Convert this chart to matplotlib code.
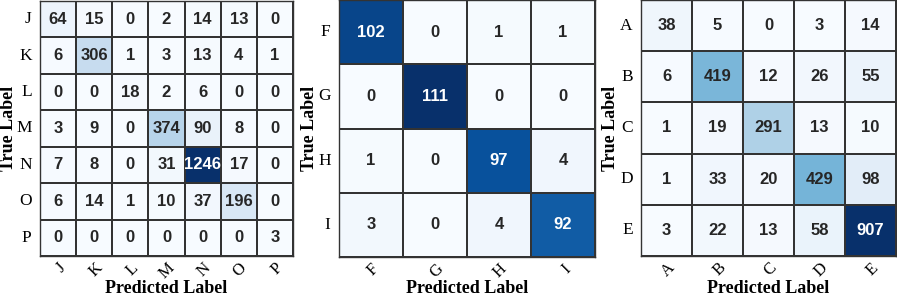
import numpy as np
import matplotlib.pyplot as plt
import seaborn as sns

labels1 = ['J', 'K', 'L', 'M', 'N', 'O', 'P']
cm1 = np.array([
    [64, 15, 0, 2, 14, 13, 0],
    [6, 306, 1, 3, 13, 4, 1],
    [0, 0, 18, 2, 6, 0, 0],
    [3, 9, 0, 374, 90, 8, 0],
    [7, 8, 0, 31, 1246, 17, 0],
    [6, 14, 1, 10, 37, 196, 0],
    [0, 0, 0, 0, 0, 0, 3],
])

labels2 = ['F', 'G', 'H', 'I']
cm2 = np.array([
    [102, 0, 1, 1],
    [0, 111, 0, 0],
    [1, 0, 97, 4],
    [3, 0, 4, 92],
])

labels3 = ['A', 'B', 'C', 'D', 'E']
cm3 = np.array([
    [38, 5, 0, 3, 14],
    [6, 419, 12, 26, 55],
    [1, 19, 291, 13, 10],
    [1, 33, 20, 429, 98],
    [3, 22, 13, 58, 907],
])

W, H = 897, 297
fig = plt.figure(figsize=(W / 100, H / 100), dpi=100)

# axes boxes in pixels: left, top, right, bottom, and x of the y-label centre
boxes = [(40, 1, 293, 256, 8), (339, 0, 595, 257, 309), (641, 0, 896, 256, 610)]

for (cm, labels), (l, t, r, b, yl) in zip([(cm1, labels1), (cm2, labels2), (cm3, labels3)], boxes):
    ax = fig.add_axes([l / W, 1 - b / H, (r - l) / W, (b - t) / H])
    sns.heatmap(cm, ax=ax, annot=True, fmt='d', cmap='Blues', cbar=False,
                vmin=0, vmax=cm.max(), linewidths=1.2, linecolor='#333333',
                annot_kws={'fontsize': 12, 'fontweight': 'bold', 'family': 'Liberation Sans'},
                xticklabels=labels, yticklabels=labels)
    for sp in ax.spines.values():
        sp.set_visible(True)
        sp.set_linewidth(1)
        sp.set_color('#333333')
    ax.tick_params(axis='y', length=0, pad=6)
    ax.tick_params(axis='x', length=0, pad=3)
    for tl in ax.get_xticklabels():
        tl.set_rotation(45)
        tl.set_fontfamily('Liberation Serif')
        tl.set_fontsize(12)
        tl.set_ha('right')
        tl.set_rotation_mode('anchor')
    for tl in ax.get_yticklabels():
        tl.set_rotation(0)
        tl.set_fontfamily('Liberation Serif')
        tl.set_fontsize(12.5)
    ax.set_xlabel('Predicted Label', fontfamily='Liberation Serif', fontweight='bold', fontsize=13)
    ax.xaxis.label.set_va('baseline')
    ax.xaxis.set_label_coords(0.5, -(H - 4 - b) / (b - t))
    ax.set_ylabel('True Label', fontfamily='Liberation Serif', fontweight='bold', fontsize=13)
    ax.yaxis.label.set_va('center')
    ax.yaxis.set_label_coords(-(l - yl) / (r - l), 0.5)

fig.savefig('out.png', dpi=100)
